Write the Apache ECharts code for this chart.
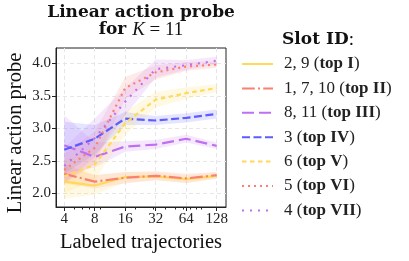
<!DOCTYPE html>
<html><head><meta charset="utf-8">
<script src="https://cdn.jsdelivr.net/npm/echarts@6/dist/echarts.min.js"></script>
<style>html,body{margin:0;padding:0;background:#fff}#c{width:409px;height:261px}</style>
</head><body><div id="c"></div>
<script>
const counts = [4, 8, 16, 32, 64, 128];
const xTickLabels = ['4', '8', '16', '32', '64', '128'];
const minorTickValues = [5, 6, 7, 9, 20, 30, 40, 50, 60, 70, 80, 90];
const yTickValues = [2.0, 2.5, 3.0, 3.5, 4.0];
const seriesNames = ['2, 9 (top I)', '1, 7, 10 (top II)', '8, 11 (top III)', '3 (top IV)', '6 (top V)', '5 (top VI)', '4 (top VII)'];
const top1 = [2.18, 2.12, 2.25, 2.26, 2.22, 2.27];
const top2 = [2.30, 2.18, 2.24, 2.27, 2.23, 2.28];
const top3 = [2.74, 2.56, 2.72, 2.75, 2.84, 2.73];
const top4 = [2.67, 2.84, 3.15, 3.12, 3.16, 3.22];
const top5 = [2.26, 2.44, 3.08, 3.44, 3.54, 3.62];
const top6 = [2.36, 2.70, 3.62, 3.86, 3.95, 3.98];
const top7 = [2.42, 2.85, 3.41, 3.91, 3.97, 4.04];
const top1Lo = [1.92, 1.98, 2.17, 2.20, 2.16, 2.22], top1Hi = [2.42, 2.28, 2.33, 2.32, 2.28, 2.32];
const top2Lo = [2.15, 2.08, 2.15, 2.20, 2.16, 2.23], top2Hi = [2.45, 2.28, 2.33, 2.34, 2.30, 2.33];
const top3Lo = [2.30, 2.40, 2.64, 2.68, 2.78, 2.68], top3Hi = [3.20, 2.78, 2.80, 2.82, 2.90, 2.78];
const top4Lo = [2.30, 2.60, 3.05, 3.05, 3.09, 3.15], top4Hi = [3.10, 3.05, 3.25, 3.19, 3.23, 3.29];
const top5Lo = [2.00, 2.20, 2.90, 3.32, 3.45, 3.56], top5Hi = [2.50, 2.70, 3.26, 3.56, 3.63, 3.68];
const top6Lo = [2.15, 2.45, 3.45, 3.75, 3.88, 3.93], top6Hi = [2.60, 2.95, 3.79, 3.97, 4.02, 4.03];
const top7Lo = [2.15, 2.55, 3.20, 3.78, 3.90, 3.98], top7Hi = [2.70, 3.15, 3.62, 4.06, 4.05, 4.10];

const means = [top1, top2, top3, top4, top5, top6, top7];
const los = [top1Lo, top2Lo, top3Lo, top4Lo, top5Lo, top6Lo, top7Lo];
const his = [top1Hi, top2Hi, top3Hi, top4Hi, top5Hi, top6Hi, top7Hi];
const colors = ['#FFD95A', '#FA8072', '#BF70F0', '#5C5CFF', '#FFD95A', '#FA8072', '#BF70F0'];
const dashes = ['solid', [12.8, 3.2, 2, 3.2], [12, 5], [8, 3.5], [4.5, 3.5], [2, 4], [2, 6]];
const FONT = 'Liberation Serif';
const BFONT = 'DejaVu Serif';

const L2 = v => Math.log2(v);
const series = [];
means.forEach((m, i) => {
  series.push({
    type: 'custom', silent: true, z: 1,
    data: counts.map((c, j) => [L2(c), los[i][j], his[i][j]]),
    renderItem: (params, api) => {
      if (params.dataIndex !== 0) return null;
      const top = counts.map((c, j) => api.coord([L2(c), his[i][j]]));
      const bot = counts.map((c, j) => api.coord([L2(c), los[i][j]])).reverse();
      return { type: 'polygon', shape: { points: top.concat(bot) }, style: { fill: colors[i], opacity: 0.16 } };
    }
  });
});
means.forEach((m, i) => {
  series.push({
    name: seriesNames[i], type: 'line', data: counts.map((c, j) => [L2(c), m[j]]),
    symbol: 'none', lineStyle: { color: colors[i], width: 2.2, type: dashes[i] },
    itemStyle: { color: colors[i] }, z: 3
  });
});

const chart = echarts.init(document.getElementById('c'), null, { renderer: 'canvas' });
chart.setOption({
  animation: false,
  grid: { left: 56, right: 183, top: 48, bottom: 54, show: true, borderColor: '#222', borderWidth: 1, containLabel: false },
  xAxis: [{
    type: 'value', min: 1.73, max: 7.305,
    axisLine: { show: true, lineStyle: { color: '#222' } },
    axisTick: { show: true, length: 4, customValues: counts.map(L2), lineStyle: { color: '#222' } },
    axisLabel: { customValues: counts.map(L2), formatter: v => xTickLabels[counts.indexOf(Math.round(Math.pow(2, v)))], fontFamily: FONT, fontSize: 15, color: '#222', margin: 5 },
    splitLine: { show: true, lineStyle: { color: '#e6e6e6', type: [4, 3] } }
  }, {
    type: 'value', min: 1.73, max: 7.305, position: 'bottom', gridIndex: 0,
    axisLine: { show: false },
    axisTick: { show: true, length: 2.5, customValues: minorTickValues.map(L2), lineStyle: { color: '#222' } },
    axisLabel: { show: false }, splitLine: { show: false }
  }],
  yAxis: {
    type: 'value', min: 1.79, max: 4.235,
    axisLine: { show: true, lineStyle: { color: '#222' } },
    axisTick: { show: true, length: 4, customValues: yTickValues, lineStyle: { color: '#222' } },
    axisLabel: { customValues: yTickValues, formatter: v => v.toFixed(1), fontFamily: FONT, fontSize: 15, color: '#222', margin: 5 },
    splitLine: { show: true, lineStyle: { color: '#e6e6e6', type: [4, 3] } }
  },
  legend: {
    data: seriesNames, orient: 'vertical', left: 241, top: 55.5, padding: 0,
    itemWidth: 31, itemHeight: 14, itemGap: 7.4,
    itemStyle: { opacity: 0 },
    formatter: n => n.replace(/\((top [IVX]+)\)/, '({b|$1})'),
    textStyle: { fontFamily: FONT, fontSize: 17, lineHeight: 14, color: '#222', padding: [0, 0, 0, 6],
      rich: { b: { fontFamily: FONT, fontSize: 17, lineHeight: 14, fontWeight: 'bold', color: '#222' } } }
  },
  graphic: [
    { type: 'text', x: 141, y: 13, style: { text: 'Linear action probe', font: 'bold 17px "' + BFONT + '"', fill: '#111', textAlign: 'center', textVerticalAlign: 'middle' } },
    { type: 'text', x: 141, y: 30, style: { rich: { b: { font: 'bold 17px "' + BFONT + '"', fill: '#111' }, i: { font: 'italic 19px "' + FONT + '"', fill: '#111' }, r: { font: '19px "' + FONT + '"', fill: '#111' } }, text: '{b|for }{i|K}{r| = 11}', textAlign: 'center', textVerticalAlign: 'middle' } },
    { type: 'text', x: 318, y: 40, style: { rich: { b: { font: 'bold 17px "' + BFONT + '"', fill: '#111' }, r: { font: '19px "' + FONT + '"', fill: '#111' } }, text: '{b|Slot ID}{r|:}', textAlign: 'center', textVerticalAlign: 'middle' } },
    { type: 'text', x: 16, y: 133, rotation: Math.PI / 2, style: { text: 'Linear action probe', font: '20.5px "' + FONT + '"', fill: '#111', textAlign: 'center', textVerticalAlign: 'middle' } },
    { type: 'text', x: 141, y: 243, style: { text: 'Labeled trajectories', font: '20.5px "' + FONT + '"', fill: '#111', textAlign: 'center', textVerticalAlign: 'middle' } }
  ],
  series: series
});
</script></body></html>
